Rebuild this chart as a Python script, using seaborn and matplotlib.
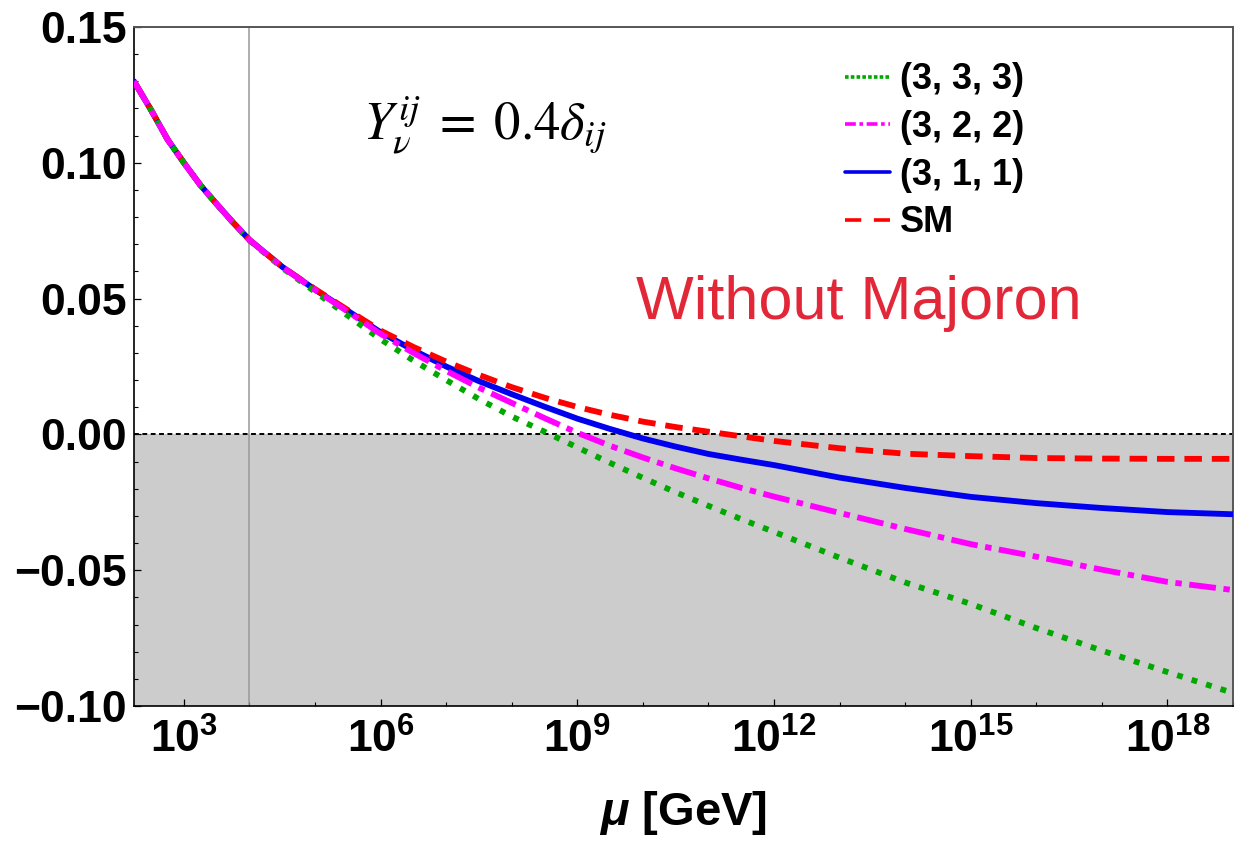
import numpy as np
import pandas as pd
import matplotlib
matplotlib.use("Agg")
import matplotlib.pyplot as plt
import seaborn as sns
from matplotlib.lines import Line2D
from matplotlib.ticker import FixedLocator, FuncFormatter, MultipleLocator, NullFormatter

# ---- data (log10 of mu in GeV) ----
log_mu = [2.238, 2.5, 2.75, 3.0, 3.25, 3.5, 3.75, 4.0, 4.5, 5.0, 5.5, 6.0, 6.5,
          7.0, 7.5, 8.0, 8.5, 9.0, 9.5, 10.0, 10.5, 11.0, 11.5, 12.0, 13.0,
          14.0, 15.0, 16.0, 17.0, 18.0, 19.0]
y_sm = [0.130, 0.1194, 0.1086, 0.100, 0.0918, 0.0848, 0.0780, 0.0716, 0.0617,
        0.0535, 0.0458, 0.0382, 0.0322, 0.0268, 0.0219, 0.0174, 0.0135, 0.0101,
        0.0072, 0.0047, 0.0027, 0.0010, -0.0007, -0.0024, -0.0051, -0.0071,
        -0.0080, -0.0087, -0.0089, -0.0090, -0.0090]
y_311 = [0.130, 0.1194, 0.1086, 0.100, 0.0918, 0.0848, 0.0780, 0.0716, 0.0617,
         0.0533, 0.0455, 0.0376, 0.0310, 0.0250, 0.0196, 0.0148, 0.0102, 0.0058,
         0.0020, -0.0015, -0.0045, -0.0072, -0.0093, -0.0113, -0.0159, -0.0197,
         -0.0230, -0.0253, -0.0271, -0.0286, -0.0294]
y_322 = [0.130, 0.1194, 0.1086, 0.100, 0.0918, 0.0848, 0.0780, 0.0716, 0.0616,
         0.0532, 0.0452, 0.0370, 0.0300, 0.0234, 0.0172, 0.0116, 0.0060, 0.0006,
         -0.0042, -0.0085, -0.0125, -0.0162, -0.0197, -0.0229, -0.0289, -0.0348,
         -0.0404, -0.0450, -0.0498, -0.0543, -0.0573]
y_333 = [0.130, 0.1194, 0.1086, 0.100, 0.0918, 0.0847, 0.0779, 0.0714, 0.0613,
         0.0525, 0.0437, 0.0350, 0.0272, 0.0200, 0.0130, 0.0066, 0.0010, -0.0048,
         -0.0105, -0.0160, -0.0213, -0.0263, -0.0312, -0.0359, -0.0454, -0.0545,
         -0.0624, -0.0713, -0.0796, -0.0875, -0.0952]
labels = ["(3, 3, 3)", "(3, 2, 2)", "(3, 1, 1)", "SM"]
x_major_exp = [3, 6, 9, 12, 15, 18]
x_minor_exp = [4, 5, 7, 8, 10, 11, 13, 14, 16, 17, 19]
v_line_mu = 1e4

mu = 10 ** np.array(log_mu)
df = pd.DataFrame({"mu": mu, "SM": y_sm, "(3, 1, 1)": y_311,
                   "(3, 2, 2)": y_322, "(3, 3, 3)": y_333})

sns.set_theme(style="white")
plt.rcParams["font.family"] = ["Liberation Sans", "DejaVu Sans"]
plt.rcParams["text.color"] = "black"
plt.rcParams["axes.labelcolor"] = "black"
plt.rcParams["mathtext.fontset"] = "custom"
plt.rcParams["mathtext.rm"] = "Liberation Sans:bold"
plt.rcParams["mathtext.bf"] = "Liberation Sans:bold"
plt.rcParams["mathtext.it"] = "Liberation Sans:bold:italic"

fig = plt.figure(figsize=(12.45, 8.41), dpi=100)
ax = fig.add_axes([0.1076, 0.1605, 0.8828, 0.8074])

ax.axhspan(-0.1, 0.0, color="#cccccc", lw=0, zorder=0)
ax.axvline(v_line_mu, color="#999999", lw=1.1, zorder=1)
ax.axhline(0.0, color="black", lw=1.4, ls=(0, (2.5, 1.8)), zorder=2)

LW = 4.2
styles = {
    "(3, 1, 1)": dict(color="#0000ee", ls="-"),
    "SM": dict(color="#ff0000", ls=(0, (3.0, 1.7))),
    "(3, 3, 3)": dict(color="#00a800", ls=(0, (1.0, 1.6))),
    "(3, 2, 2)": dict(color="#ff00ff", ls=(0, (4.6, 1.3, 1.1, 1.3))),
}
for name in ["(3, 1, 1)", "SM", "(3, 3, 3)", "(3, 2, 2)"]:
    st = styles[name]
    sns.lineplot(data=df, x="mu", y=name, ax=ax, color=st["color"], lw=LW,
                 linestyle=st["ls"], zorder=3, legend=False)

ax.set_xscale("log")
ax.set_xlim(10 ** 2.238, 1e19)
ax.set_ylim(-0.10, 0.15)

ax.xaxis.set_major_locator(FixedLocator([10.0 ** e for e in x_major_exp]))
ax.xaxis.set_minor_locator(FixedLocator([10.0 ** e for e in x_minor_exp]))
ax.xaxis.set_major_formatter(
    FuncFormatter(lambda v, p: r"$\mathbf{10^{%d}}$" % int(round(np.log10(v)))))
ax.xaxis.set_minor_formatter(NullFormatter())
ax.yaxis.set_major_locator(MultipleLocator(0.05))
ax.yaxis.set_minor_locator(MultipleLocator(0.01))
ax.yaxis.set_major_formatter(
    FuncFormatter(lambda v, p: ("%.2f" % v).replace("-", "\u2212")))

ax.tick_params(axis="both", which="both", direction="in", top=False, right=False,
               colors="black")
ax.tick_params(axis="both", which="major", length=5, width=0.9)
ax.tick_params(axis="both", which="minor", length=3, width=0.8)
ax.tick_params(axis="y", which="both", left=True, labelsize=32, pad=5)
ax.tick_params(axis="x", which="both", bottom=True, labelsize=32, pad=9)
for lab in ax.get_yticklabels():
    lab.set_fontweight("bold")

ax.set_xlabel(r"$\mu$ [GeV]", fontsize=34, fontweight="bold", labelpad=20,
              color="black")
ax.set_ylabel("")

for s in ["left", "bottom"]:
    ax.spines[s].set_color("black")
    ax.spines[s].set_linewidth(1.2)
for s in ["top", "right"]:
    ax.spines[s].set_color("#555555")
    ax.spines[s].set_linewidth(1.4)

handles = [
    Line2D([], [], color=styles["(3, 3, 3)"]["color"], lw=2.6, ls=(0, (1.0, 0.6))),
    Line2D([], [], color=styles["(3, 2, 2)"]["color"], lw=2.6, ls=(0, (3, 1, 1, 1))),
    Line2D([], [], color=styles["(3, 1, 1)"]["color"], lw=2.6, ls="-"),
    Line2D([], [], color=styles["SM"]["color"], lw=2.6, ls=(0, (4.5, 3.5))),
]
leg = ax.legend(handles, labels, loc="upper left",
                bbox_to_anchor=(0.6787, 0.926), bbox_transform=fig.transFigure,
                frameon=False, borderpad=0, borderaxespad=0,
                handlelength=1.25, handletextpad=0.27, labelspacing=0.35,
                labelcolor="black",
                prop={"family": "Liberation Sans", "weight": "bold", "size": 26})

fig.text(0.3896, 0.8514, r"$Y_{\nu}^{ij}\;=\;0.4\delta_{ij}$", fontsize=38,
         ha="center", va="center", color="black", math_fontfamily="stix")
fig.text(0.690, 0.621, "Without Majoron", fontsize=44, color="#e22838",
         ha="center", va="baseline", family="Liberation Sans")

fig.savefig("out.png", dpi=100)
